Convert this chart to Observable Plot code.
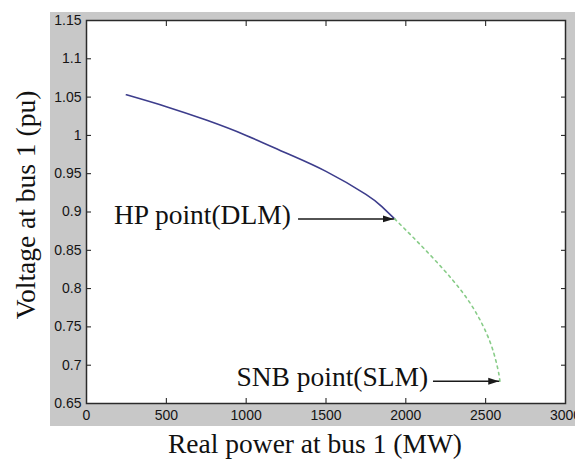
<!DOCTYPE html>
<html>
<head>
<meta charset="utf-8">
<script src="https://cdn.jsdelivr.net/npm/d3@7"></script>
<script src="https://cdn.jsdelivr.net/npm/@observablehq/plot@0.6"></script>
<style>
  html, body { margin: 0; padding: 0; background: white; }
</style>
</head>
<body>
<div id="chart"></div>
<script>
// ---- data ----
const xTicks = [0, 500, 1000, 1500, 2000, 2500, 3000];
const xTickLabels = ["0", "500", "1000", "1500", "2000", "2500", "3000"];
const yTicks = [0.65, 0.7, 0.75, 0.8, 0.85, 0.9, 0.95, 1, 1.05, 1.1, 1.15];
const yTickLabels = ["0.65", "0.7", "0.75", "0.8", "0.85", "0.9", "0.95", "1", "1.05", "1.1", "1.15"];

// stable branch (solid, DLM) up to the HP point
const dlmPower = [250, 500, 750, 1000, 1250, 1500, 1750, 1850, 1930];
const dlmVoltage = [1.053, 1.0375, 1.020, 1.000, 0.977, 0.953, 0.923, 0.907, 0.891];

// continuation branch (dashed, SLM) from HP point to SNB point
const slmPower = [1930, 2050, 2170, 2290, 2390, 2470, 2530, 2565, 2583, 2590];
const slmVoltage = [0.891, 0.866, 0.840, 0.812, 0.785, 0.757, 0.729, 0.705, 0.688, 0.678];

// annotations
const annLabels = ["HP point(DLM)", "SNB point(SLM)"];
const annTextX = [1280, 2140];
const annArrowX1 = [1325, 2170];
const annArrowX2 = [1925, 2585];
const annY = [0.891, 0.679];

const xTitle = "Real power at bus 1 (MW)";
const yTitle = "Voltage at bus 1 (pu)";

// ---- build ----
const dlm = dlmPower.map((p, i) => ({p, v: dlmVoltage[i]}));
const slm = slmPower.map((p, i) => ({p, v: slmVoltage[i]}));
const ann = annLabels.map((t, i) => ({t, tx: annTextX[i], x1: annArrowX1[i], x2: annArrowX2[i], y: annY[i]}));

function headMarker(color, context) {
  const doc = (context && context.document) || document;
  const ns = "http://www.w3.org/2000/svg";
  const m = doc.createElementNS(ns, "marker");
  m.setAttribute("viewBox", "-11 -4 11 8");
  m.setAttribute("markerWidth", "11");
  m.setAttribute("markerHeight", "8");
  m.setAttribute("markerUnits", "userSpaceOnUse");
  m.setAttribute("refX", "0");
  m.setAttribute("refY", "0");
  m.setAttribute("orient", "auto");
  m.setAttribute("fill", color);
  m.setAttribute("stroke", "none");
  const path = doc.createElementNS(ns, "path");
  path.setAttribute("d", "M-11,-3.5L0,0L-11,3.5Z");
  m.appendChild(path);
  return m;
}

const serif = "'Liberation Serif', 'Times New Roman', serif";
const sans = "'Liberation Sans', Arial, sans-serif";

const chart = Plot.plot({
  width: 575,
  height: 460,
  marginLeft: 86,
  marginRight: 10,
  marginTop: 20,
  marginBottom: 57,
  style: {
    background: "linear-gradient(#c8c8c8, #c8c8c8) 50px 12px / 525px 414px no-repeat, white",
    color: "#151515",
    fontFamily: sans,
    fontSize: "14px",
    overflow: "visible"
  },
  x: {domain: [0, 3000], label: null},
  y: {domain: [0.65, 1.15], label: null},
  marks: [
    Plot.frame({fill: "white", stroke: null}),
    Plot.axisX({anchor: "bottom", ticks: xTicks, tickFormat: (d, i) => xTickLabels[i], tickSize: -5, tickPadding: 12, label: null, fontSize: 14, letterSpacing: -0.8}),
    Plot.axisX({anchor: "top", ticks: xTicks, tickFormat: () => "", tickSize: -5, label: null}),
    Plot.axisY({anchor: "left", ticks: yTicks, tickFormat: (d, i) => yTickLabels[i], tickSize: -5, tickPadding: 10, label: null, fontSize: 14, letterSpacing: -0.8}),
    Plot.axisY({anchor: "right", ticks: yTicks, tickFormat: () => "", tickSize: -5, label: null}),
    Plot.frame({stroke: "#2a2a2a", strokeWidth: 1.5}),
    Plot.line(dlm, {x: "p", y: "v", stroke: "#3d3d8c", strokeWidth: 1.6, curve: "natural"}),
    Plot.line(slm, {x: "p", y: "v", stroke: "#88cc88", strokeWidth: 1.6, strokeDasharray: "2.5,4", curve: "natural"}),
    Plot.link(ann, {x1: "x1", x2: "x2", y1: "y", y2: "y", stroke: "#1a1a1a", strokeWidth: 1.5, markerEnd: headMarker}),
    Plot.text(ann, {x: "tx", y: "y", text: "t", textAnchor: "end", fontFamily: serif, fontSize: 27.5, fill: "#111", dy: -4}),
    Plot.text([xTitle], {text: d => d, frameAnchor: "bottom", dy: 41, dx: -11, textAnchor: "middle", lineAnchor: "middle", fontFamily: serif, fontSize: 27.5, fill: "#111"}),
    Plot.text([yTitle], {text: d => d, frameAnchor: "left", rotate: -90, dx: -60, dy: -7, textAnchor: "middle", lineAnchor: "middle", fontFamily: serif, fontSize: 27.5, fill: "#111"})
  ]
});
document.getElementById("chart").appendChild(chart);
</script>
</body>
</html>
